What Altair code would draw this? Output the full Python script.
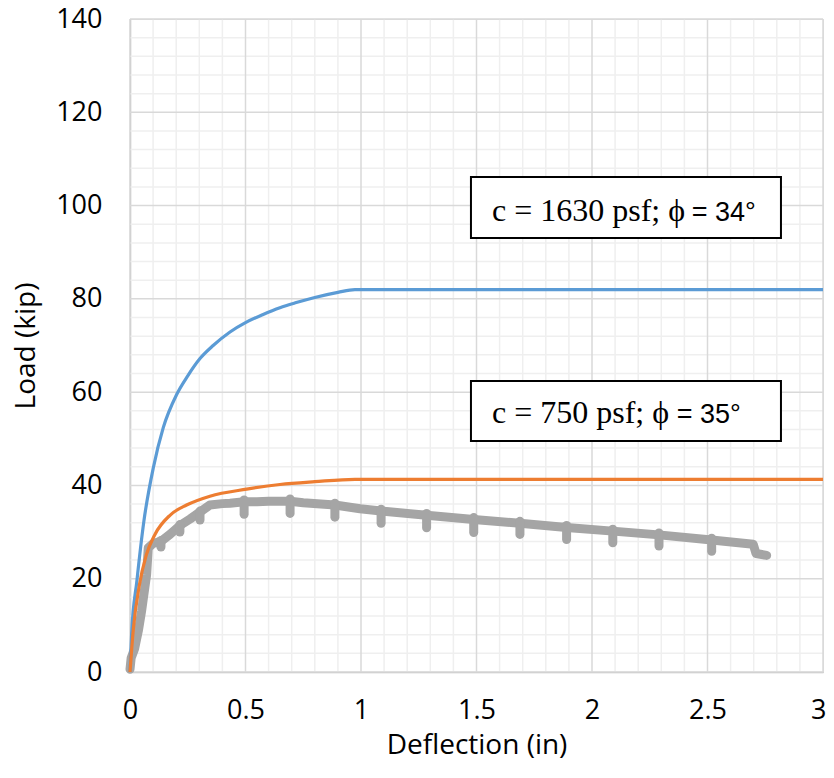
import altair as alt
import pandas as pd

# ---- data ----
blue_x = [0, 0.007, 0.03, 0.06, 0.101, 0.144, 0.202, 0.25, 0.303, 0.36, 0.433, 0.5, 0.574,
          0.649, 0.72, 0.8, 0.9, 0.974, 3.0]
blue_y = [0, 8.1, 19.6, 32.3, 43.8, 52.4, 59.5, 63.5, 67.2, 70.0, 72.9, 74.9, 76.6,
          78.1, 79.2, 80.3, 81.4, 82.0, 82.0]

orange_x = [0, 0.014, 0.04, 0.07, 0.108, 0.173, 0.245, 0.346, 0.505, 0.649, 0.8, 0.974, 3.0]
orange_y = [0, 9.0, 18.5, 25.0, 29.5, 33.6, 35.8, 37.7, 39.2, 40.2, 40.8, 41.3, 41.3]

# measured load-deflection curve (envelope)
gray_x = [0, 0.005, 0.02, 0.036, 0.05, 0.058, 0.072, 0.079, 0.101, 0.134, 0.173, 0.216,
          0.26, 0.303, 0.346, 0.40, 0.433, 0.494, 0.55, 0.60, 0.693, 0.75, 0.887, 0.996,
          1.087, 1.284, 1.488, 1.688, 1.89, 2.09, 2.29, 2.518, 2.698, 2.71, 2.756]
gray_y = [0.6, 3.0, 5.0, 8.8, 13.0, 15.9, 20.9, 26.6, 27.6, 28.0, 29.5, 31.4,
          32.8, 34.3, 35.8, 36.1, 36.2, 36.5, 36.5, 36.6, 36.6, 36.3, 35.8, 35.0,
          34.5, 33.6, 32.7, 31.9, 31.0, 30.2, 29.4, 28.3, 27.4, 25.4, 25.0]

# unload/reload cycles (dips below the envelope)
dip_x = [0.134, 0.216, 0.303, 0.494, 0.693, 0.887, 1.087, 1.284, 1.488, 1.688, 1.89, 2.09,
         2.29, 2.518]
dip_top = [28.2, 31.6, 34.5, 36.9, 37.1, 36.2, 34.9, 34.0, 33.1, 32.3, 31.4, 30.6,
           29.8, 28.7]
dip_bottom = [26.8, 30.0, 32.6, 33.8, 34.0, 33.2, 31.9, 30.9, 29.9, 29.5, 28.4, 27.7,
              27.0, 25.9]

x_major = [0, 0.5, 1, 1.5, 2, 2.5, 3]
y_major = [0, 20, 40, 60, 80, 100, 120, 140]
x_minor = [0.1, 0.2, 0.3, 0.4, 0.6, 0.7, 0.8, 0.9, 1.1, 1.2, 1.3, 1.4, 1.6, 1.7, 1.8, 1.9,
           2.1, 2.2, 2.3, 2.4, 2.6, 2.7, 2.8, 2.9]
y_minor = [4, 8, 12, 16, 24, 28, 32, 36, 44, 48, 52, 56, 64, 68, 72, 76, 84, 88, 92, 96,
           104, 108, 112, 116, 124, 128, 132, 136]

box_x1 = [1.476, 1.476]
box_x2 = [2.818, 2.818]
box_y1 = [106.1, 62.4]
box_y2 = [93.05, 49.5]
label_serif = ["c = 1630 psf; ϕ", "c = 750 psf; ϕ"]
label_sans = ["= 34°", "= 35°"]
label_serif_x = [1.567, 1.567]
label_sans_x = [2.432, 2.367]
label_y = [96.7, 53.45]

# ---- tables ----
blue_df = pd.DataFrame({"x": blue_x, "y": blue_y, "i": range(len(blue_x))})
orange_df = pd.DataFrame({"x": orange_x, "y": orange_y, "i": range(len(orange_x))})
gray_df = pd.DataFrame({"x": gray_x, "y": gray_y, "i": range(len(gray_x))})
dip_df = pd.DataFrame({"x": dip_x, "top": dip_top, "bottom": dip_bottom})
box_df = pd.DataFrame({"x1": box_x1, "x2": box_x2, "y1": box_y1, "y2": box_y2})
txt_df = pd.DataFrame({"xs": label_serif_x, "xa": label_sans_x, "y": label_y,
                       "ts": label_serif, "ta": label_sans})
xmin_df = pd.DataFrame({"v": x_minor})
ymin_df = pd.DataFrame({"v": y_minor})
xmaj_df = pd.DataFrame({"v": x_major})
ymaj_df = pd.DataFrame({"v": y_major})

FONT = "Open Sans"
GRAY = "#a5a5a5"

xscale = alt.Scale(domain=[0, 3], nice=False, zero=False)
yscale = alt.Scale(domain=[0, 140], nice=False, zero=False)

last_x = "datum.value >= 3"
xaxis = alt.Axis(
    values=x_major, title="Deflection (in)", format="~g", grid=False,
    ticks=False, domainColor="#bfbfbf", domainWidth=1.5, labelFlush=False,
    labelOverlap=False,
    labelAlign={"condition": {"test": last_x, "value": "right"}, "value": "center"},
    labelOffset={"condition": {"test": last_x, "value": 3}, "value": 0},
    labelFont=FONT, labelFontSize=27, labelColor="#000000", labelPadding=25,
    titleFont=FONT, titleFontSize=28, titleFontWeight="normal", titleColor="#000000",
    titlePadding=8,
)
yaxis = alt.Axis(
    values=y_major, title="Load (kip)", format="d", grid=False,
    ticks=False, domainColor="#bfbfbf", domainWidth=1.5, labelFlush=False,
    labelOverlap=False,
    labelFont=FONT, labelFontSize=27, labelColor="#000000", labelPadding=28,
    titleFont=FONT, titleFontSize=28, titleFontWeight="normal", titleColor="#000000",
    titlePadding=15,
)

minor_v = alt.Chart(xmin_df).mark_rule(color="#efefef", strokeWidth=1.5).encode(
    x=alt.X("v:Q", scale=xscale, axis=xaxis))
minor_h = alt.Chart(ymin_df).mark_rule(color="#efefef", strokeWidth=1.5).encode(
    y=alt.Y("v:Q", scale=yscale, axis=yaxis))
major_v = alt.Chart(xmaj_df).mark_rule(color="#d9d9d9", strokeWidth=1.5).encode(x="v:Q")
major_h = alt.Chart(ymaj_df).mark_rule(color="#d9d9d9", strokeWidth=1.5).encode(y="v:Q")

gray = alt.Chart(gray_df).mark_line(
    color=GRAY, strokeWidth=9, strokeCap="round", strokeJoin="round"
).encode(x="x:Q", y="y:Q", order="i:Q")

dips = alt.Chart(dip_df).mark_rule(
    color=GRAY, strokeWidth=9, strokeCap="round"
).encode(x="x:Q", y="top:Q", y2="bottom:Q")

blue = alt.Chart(blue_df).mark_line(
    color="#5b9bd5", strokeWidth=3.2, interpolate="monotone"
).encode(x="x:Q", y="y:Q", order="i:Q")

orange = alt.Chart(orange_df).mark_line(
    color="#ed7d31", strokeWidth=3.2, interpolate="monotone"
).encode(x="x:Q", y="y:Q", order="i:Q")

boxes = alt.Chart(box_df).mark_rect(
    fill="white", stroke="black", strokeWidth=2
).encode(x="x1:Q", x2="x2:Q", y="y1:Q", y2="y2:Q")

serif_txt = alt.Chart(txt_df).mark_text(
    font="Liberation Serif", fontSize=32, align="left", baseline="alphabetic", color="black"
).encode(x="xs:Q", y="y:Q", text="ts:N")

sans_txt = alt.Chart(txt_df).mark_text(
    font="Liberation Sans", fontSize=27, align="left", baseline="alphabetic", color="black"
).encode(x="xa:Q", y="y:Q", text="ta:N")

chart = alt.layer(minor_v, minor_h, major_v, major_h, gray, dips, blue, orange,
                  boxes, serif_txt, sans_txt).properties(
    width=693, height=653,
    autosize=alt.AutoSizeParams(type="none"),
    padding={"left": 122, "top": 11, "right": 3, "bottom": 95},
).configure_view(stroke=None).configure(background="white")

chart.save("out.html", embed_options={"renderer": "svg", "actions": False})
